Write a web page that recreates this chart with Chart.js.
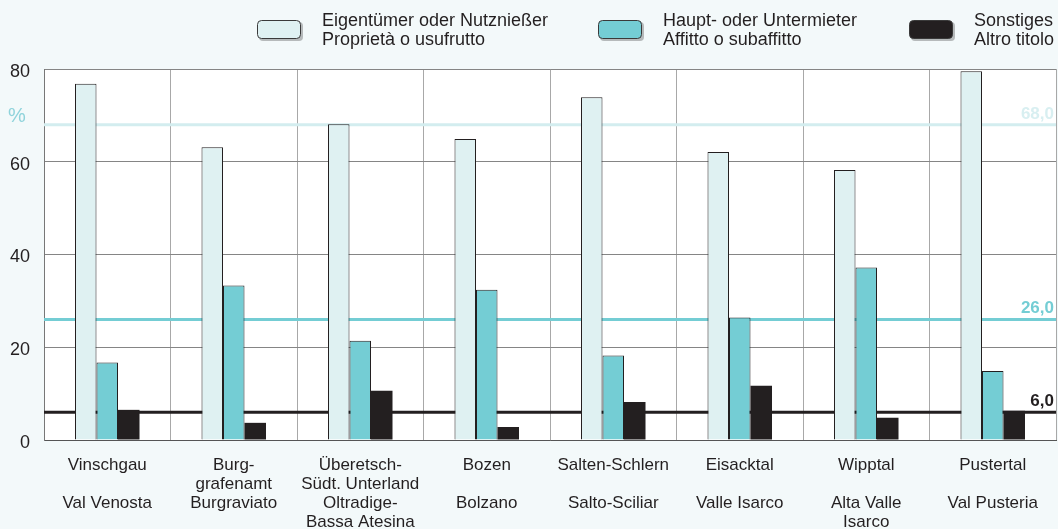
<!DOCTYPE html>
<html>
<head>
<meta charset="utf-8">
<script src="https://cdn.jsdelivr.net/npm/chart.js@4.4.1/dist/chart.umd.min.js"></script>
<style>
    html, body { margin: 0; padding: 0; background: #f3f9fa; }
    #wrap { width: 1058px; height: 529px; position: relative; }
</style>
</head>
<body>
<div id="wrap"><canvas id="housingChart"></canvas></div>
<script>
// =====================================
// DATA
// =====================================

const categories = [
    ["Vinschgau", "", "Val Venosta"],
    ["Burg-", "grafenamt", "Burgraviato"],
    ["Überetsch-", "Südt. Unterland", "Oltradige-", "Bassa Atesina"],
    ["Bozen", "", "Bolzano"],
    ["Salten-Schlern", "", "Salto-Sciliar"],
    ["Eisacktal", "", "Valle Isarco"],
    ["Wipptal", "", "Alta Valle", "Isarco"],
    ["Pustertal", "", "Val Pusteria"]
];

const seriesNames = [
    ["Eigentümer oder Nutznießer", "Proprietà o usufrutto"],
    ["Haupt- oder Untermieter", "Affitto o subaffitto"],
    ["Sonstiges", "Altro titolo"]
];

const ownership = [76.8, 63.1, 68.1, 64.9, 73.9, 62.1, 58.2, 79.5];
const rent = [16.7, 33.3, 21.4, 32.4, 18.2, 26.4, 37.2, 14.9];
const other = [6.5, 3.7, 10.6, 2.8, 8.2, 11.7, 4.8, 6.3];

// Durchschnitt Südtirol
const averages = [68.0, 26.0, 6.0];
const averageLabels = ["68,0", "26,0", "6,0"];

const yTicks = [0, 20, 40, 60, 80];

const colors = ["#dff1f2", "#74cdd4", "#231f20"];
const lineColors = ["#d3edef", "#74cdd4", "#231f20"];
const labelColors = ["#d8eff1", "#74cdd4", "#231f20"];

// =====================================
// PLUGIN: plot background, average lines, legend
// =====================================

const decorations = {

    id: "decorations",

    beforeDraw(chart) {
        const { ctx, chartArea: a } = chart;
        ctx.save();
        ctx.fillStyle = "#ffffff";
        ctx.fillRect(a.left, a.top, a.right - a.left, a.bottom - a.top);
        ctx.restore();
    },

    beforeDatasetsDraw(chart) {
        const { ctx, chartArea: a, scales } = chart;
        ctx.save();
        ctx.lineWidth = 3;
        averages.forEach((v, i) => {
            const y = scales.y.getPixelForValue(v);
            ctx.strokeStyle = lineColors[i];
            ctx.beginPath();
            ctx.moveTo(a.left, y);
            ctx.lineTo(a.right, y);
            ctx.stroke();
        });
        ctx.restore();
    },

    afterDatasetsDraw(chart) {
        const { ctx, chartArea: a, scales } = chart;
        ctx.save();
        ctx.font = "bold 17px 'Liberation Sans', Arial, sans-serif";
        ctx.textAlign = "right";
        ctx.textBaseline = "alphabetic";
        averages.forEach((v, i) => {
            const y = scales.y.getPixelForValue(v);
            ctx.fillStyle = labelColors[i];
            ctx.fillText(averageLabels[i], a.right - 2, y - 6);
        });

        // Einheit
        ctx.font = "20px 'Liberation Sans', Arial, sans-serif";
        ctx.textAlign = "left";
        ctx.fillStyle = "#8fd3db";
        ctx.fillText("%", 8, scales.y.getPixelForValue(averages[0]) - 3);
        ctx.restore();
    },

    afterDraw(chart) {
        const { ctx } = chart;
        const boxX = [257, 598, 909];
        ctx.save();
        ctx.font = "18px 'Liberation Sans', Arial, sans-serif";
        ctx.textBaseline = "alphabetic";
        seriesNames.forEach((names, i) => {
            const x = boxX[i];
            // Schatten
            ctx.fillStyle = "rgba(0,0,0,0.25)";
            ctx.beginPath();
            ctx.roundRect(x + 2, 22, 44, 19, 4);
            ctx.fill();
            ctx.fillStyle = colors[i];
            ctx.strokeStyle = "#3a3a3a";
            ctx.lineWidth = 1;
            ctx.beginPath();
            ctx.roundRect(x + 0.5, 20.5, 43, 18, 4);
            ctx.fill();
            ctx.stroke();
            ctx.fillStyle = "#231f20";
            ctx.fillText(names[0], x + 65, 26);
            ctx.fillText(names[1], x + 65, 45);
        });
        ctx.restore();
    }

};

// =====================================
// CHART
// =====================================

const canvas = document.getElementById("housingChart");
const ctx = canvas.getContext("2d");

new Chart(ctx, {

    type: "bar",

    data: {

        labels: categories,

        datasets: [
            {
                label: seriesNames[0].join(" / "),
                data: ownership,
                backgroundColor: colors[0],
                borderColor: "#231f20",
                borderWidth: 1
            },
            {
                label: seriesNames[1].join(" / "),
                data: rent,
                backgroundColor: colors[1],
                borderColor: "#231f20",
                borderWidth: 1
            },
            {
                label: seriesNames[2].join(" / "),
                data: other,
                backgroundColor: colors[2],
                borderColor: colors[2],
                borderWidth: 0
            }
        ]

    },

    options: {

        responsive: true,
        maintainAspectRatio: false,
        animation: false,

        categoryPercentage: 0.51,
        barPercentage: 1.0,

        layout: {
            padding: { top: 69, right: 2, left: 0, bottom: 0 }
        },

        plugins: {
            legend: { display: false },
            tooltip: { enabled: false }
        },

        scales: {

            x: {
                grid: {
                    offset: true,
                    color: "#a8a8a8",
                    drawTicks: false
                },
                border: { color: "#555555" },
                ticks: {
                    color: "#231f20",
                    padding: 16,
                    maxRotation: 0,
                    autoSkip: false,
                    font: { family: "'Liberation Sans', Arial, sans-serif", size: 17, lineHeight: "19px" }
                },
                afterFit(scale) { scale.height = 89; }
            },

            y: {
                min: 0,
                max: 80,
                afterBuildTicks(scale) {
                    scale.ticks = yTicks.map(v => ({ value: v }));
                },
                grid: {
                    color: "#858585",
                    drawTicks: false
                },
                border: { color: "#777777" },
                ticks: {
                    color: "#231f20",
                    padding: 14,
                    labelOffset: 3,
                    font: { family: "'Liberation Sans', Arial, sans-serif", size: 18 }
                },
                afterFit(scale) { scale.width = 44; }
            }

        }

    },

    plugins: [decorations]

});
</script>
</body>
</html>
